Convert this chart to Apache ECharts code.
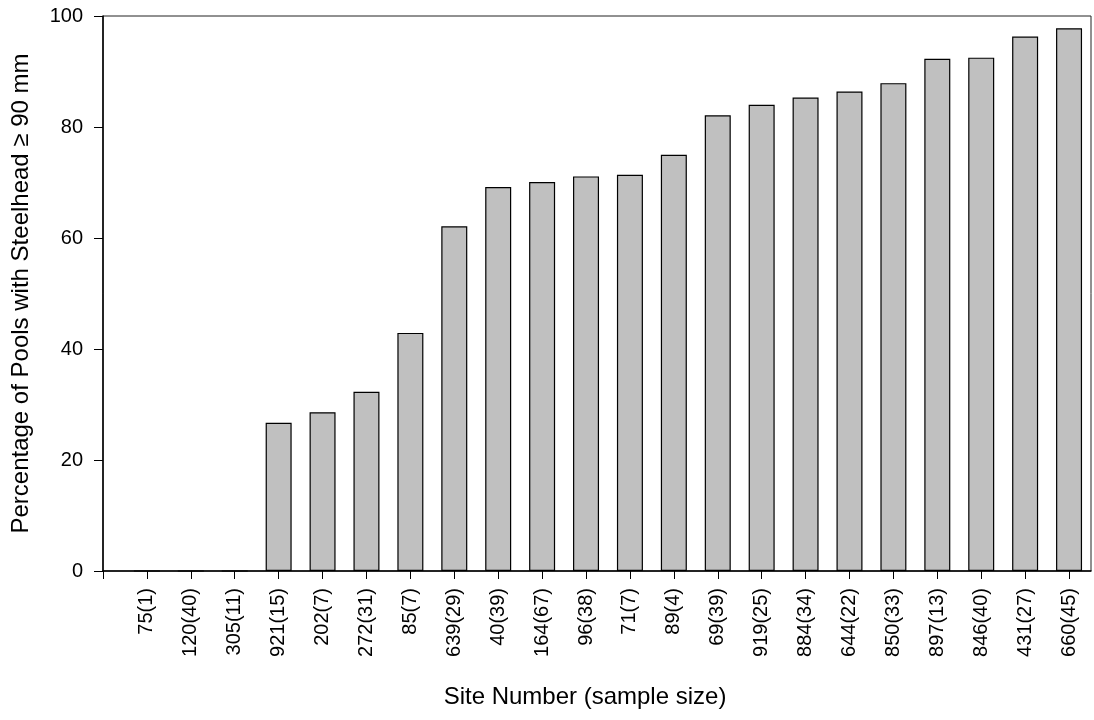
<!DOCTYPE html>
<html>
<head>
<meta charset="utf-8">
<script src="https://cdn.jsdelivr.net/npm/echarts@6/dist/echarts.min.js"></script>
<style>
html,body{margin:0;padding:0;background:#fff;}
#chart{width:1094px;height:720px;}
</style>
</head>
<body>
<div id="chart"></div>
<script>
const sites = ["75(1)","120(40)","305(11)","921(15)","202(7)","272(31)","85(7)","639(29)","40(39)","164(67)","96(38)","71(7)","89(4)","69(39)","919(25)","884(34)","644(22)","850(33)","897(13)","846(40)","431(27)","660(45)"];
const percentages = [0,0,0,26.7,28.6,32.3,42.9,62.1,69.2,70.1,71.1,71.4,75.0,82.1,84.0,85.3,86.4,87.9,92.3,92.5,96.3,97.8];
const yTicks = [0,20,40,60,80,100];

const FONT = "Liberation Sans, Arial, sans-serif";
const positions = sites.map((s,i)=>i+1);
const chart = echarts.init(document.getElementById('chart'), null, {renderer:'canvas'});
chart.setOption({
  animation:false,
  backgroundColor:'#fff',
  grid:{left:103,right:3,top:16,bottom:149,show:true,borderColor:'#222',borderWidth:1,backgroundColor:'transparent'},
  xAxis:{
    type:'value',min:0,max:22.5,interval:1,
    name:'Site Number (sample size)',nameLocation:'middle',nameGap:114,
    nameTextStyle:{fontFamily:FONT,fontSize:24,color:'#000',padding:[0,24,0,0]},
    axisLine:{show:true,lineStyle:{color:'#000',width:1.5}},
    axisTick:{show:true,length:8,lineStyle:{color:'#000',width:1},customValues:[0].concat(positions)},
    axisLabel:{show:true,rotate:90,margin:17,fontFamily:FONT,fontSize:20,color:'#000',
      customValues:positions,
      formatter:v=>{const i=Math.round(v)-1;return (i>=0&&i<sites.length&&Math.abs(v-Math.round(v))<1e-6)?sites[i]:'';}},
    splitLine:{show:false}
  },
  yAxis:{
    type:'value',min:0,max:100,interval:20,
    name:'Percentage of Pools with Steelhead \u2265 90 mm',nameLocation:'middle',nameGap:70,
    nameTextStyle:{fontFamily:FONT,fontSize:24,color:'#000'},
    axisLine:{show:true,lineStyle:{color:'#000',width:1.5}},
    axisTick:{show:true,length:9,inside:false,lineStyle:{color:'#000',width:1},customValues:yTicks},
    axisLabel:{fontFamily:FONT,fontSize:20,color:'#000',margin:20,customValues:yTicks},
    splitLine:{show:false}
  },
  series:[{
    type:'bar',
    data:positions.map((p,i)=>[p,percentages[i]]),
    barWidth:26,
    itemStyle:{color:'#c0c0c0',borderColor:'#000',borderWidth:1.2},
    silent:true
  }]
});
</script>
</body>
</html>
